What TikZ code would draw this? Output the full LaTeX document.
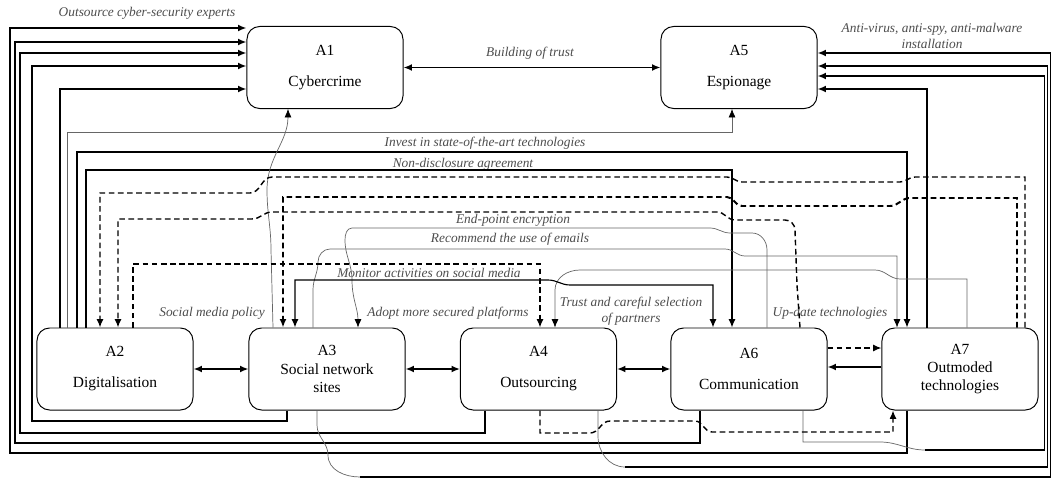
\documentclass[tikz,border=0pt]{standalone}
\usepackage{fontspec}
\setmainfont{Liberation Serif}
\usetikzlibrary{arrows.meta}

\begin{document}
\begin{tikzpicture}[x=0.025cm,y=-0.025cm,>={Latex[length=6pt,width=5pt,color=black]},
  box/.style={draw,rounded corners=9pt,minimum width=3.9cm,minimum height=2.05cm,align=center,line width=0.7pt,font=\fontsize{11}{13}\selectfont},
  thk/.style={line width=1.3pt},
  med/.style={line width=0.8pt},
  thn/.style={line width=0.5pt,black!60},
  dsh/.style={line width=1pt,dash pattern=on 4pt off 2.5pt},
  lbl/.style={font=\itshape\fontsize{9.5}{11}\selectfont,text=black!70,align=center}]
\useasboundingbox (0,0) rectangle (1052,479);

\node[box] (A1) at (325,67.5) {A1\\[9pt]Cybercrime};
\node[box] (A5) at (739,67.5) {A5\\[9pt]Espionage};
\node[box] (A2) at (115,369) {A2\\[9pt]Digitalisation};
\node[box] (A3) at (327,369) {A3\\Social network\\sites};
\node[box] (A4) at (538.5,369) {A4\\[9pt]Outsourcing};
\node[box] (A6) at (749,369) {A6\\[9pt]Communication};
\node[box] (A7) at (960,369) {A7\\Outmoded\\technologies};

\node[lbl] (l1) at (147,13) {Outsource cyber-security experts};
\node[lbl] (l2) at (530,53) {Building of trust};
\node[lbl] (l3) at (932,36) {Anti-virus, anti-spy, anti-malware\\installation};
\node[lbl] (l4) at (485,143) {Invest in state-of-the-art technologies};
\node[lbl] (l5) at (463,164) {Non-disclosure agreement};
\node[lbl] (l6) at (513,220) {End-point encryption};
\node[lbl] (l7) at (510,239) {Recommend the use of emails};
\node[lbl] (l8) at (429,273) {Monitor activities on social media};
\node[lbl] (l9) at (448,313) {Adopt more secured platforms};
\node[lbl] (l10) at (631,311) {Trust and careful selection\\of partners};
\node[lbl] (l11) at (212,313) {Social media policy};
\node[lbl] (l12) at (830,313) {Up-date technologies};

\draw[thk,<->] (A1) -- (A5);
\draw[thk,<->] (A2) -- (A3);
\draw[thk,<->] (A3) -- (A4);
\draw[thk,<->] (A4) -- (A6);
\draw[thk,->] (A7.west |- 0,367) -- (A6.east |- 0,367);
\draw[dsh,->] (A6.east |- 0,348) -- (A7.west |- 0,348);

\draw[thk,->] (60,0 |- A2.north) |- (A1.west |- 0,89);
\draw[thk,->] (287,0 |- A3.south) |- (32,421) |- (A1.west |- 0,66);
\draw[thk,->] (485,0 |- A4.south) |- (20,433) |- (A1.west |- 0,53);
\draw[thk,->] (700,0 |- A6.south) |- (15,443) |- (A1.west |- 0,42);
\draw[thk,->] (907,0 |- A7.south) |- (10,453) |- (A1.west |- 0,28);

\coordinate (j6) at (925,450);
\coordinate (j4) at (625,467);
\coordinate (j3) at (360,477);
\draw[thk,->] (927,0 |- A7.north) |- (A5.east |- 0,89);
\draw[thn] (803,0 |- A6.south) |- (880,442) to[out=0,in=180] (j6);
\draw[thk,->] (j6) -| (1044.5,76) -- (A5.east |- 0,76);
\draw[thn] (598,0 |- A4.south) -- (598,436) to[out=-90,in=180] (j4);
\draw[thk,->] (j4) -| (1047.5,66) -- (A5.east |- 0,66);
\draw[thn] (317,0 |- A3.south) -- (317,425) to[out=-90,in=90] (328,455) to[out=-90,in=180] (j3);
\draw[thk,->] (j3) -| (1050.5,53) -- (A5.east |- 0,53);

\draw[thn,->] (67,0 |- A2.north) |- (732,132) -- (732,0 |- A5.south);
\draw[med,->] (77,0 |- A2.north) |- (907,152) -- (907,0 |- A7.north);
\draw[med,->] (86,0 |- A2.north) |- (732,170) -- (732,0 |- A6.north);
\draw[thn,->] (273,0 |- A3.north) -- (271,250) to[out=90,in=-90] (267,190) to[out=90,in=-90] (288,0 |- A1.south);

\draw[thn,->] (767,0 |- A6.north) -- (767,250) to[out=90,in=0] (752,233) -- (730,233) to[out=180,in=0] (710,228) -- (352,228) to[out=180,in=90] (345,240) to[out=-90,in=90] (352,280) to[out=-90,in=90] (358,0 |- A3.north);
\draw[thn,->] (313,0 |- A3.north) -- (313,290) to[out=90,in=-90] (318,262) to[out=90,in=180] (330,249) -- (725,249) to[out=0,in=180] (745,256) -| (897,0 |- A7.north);
\draw[thn,->] (967,0 |- A7.north) |- (900,279) to[out=180,in=0] (875,270) -- (580,270) to[out=180,in=90] (555,290) -- (555,0 |- A4.north);
\draw[med,<->] (295,0 |- A3.north) |- (548,280) to[out=0,in=180] (570,285) -| (713,0 |- A6.north);

\draw[dsh,->] (1025,0 |- A7.north) |- (915,177) to[out=180,in=0] (900,182) -- (742,182) to[out=180,in=0] (727,177) -- (272,177) to[out=180,in=0] (250,193) -| (100,0 |- A2.north);
\draw[dsh,line width=1.4pt,->] (1017,0 |- A7.north) |- (910,198) to[out=180,in=0] (890,206) -- (742,206) to[out=180,in=0] (727,197) -| (283,0 |- A3.north);
\draw[dsh,->] (800,0 |- A6.north) -- (797,285) -- (795,230) to[out=90,in=0] (785,220) -- (735,220) to[out=180,in=0] (717,212) -- (272,212) to[out=180,in=0] (252,219) -| (118,0 |- A2.north);
\draw[dsh,->] (133,0 |- A2.north) |- (540,264) -- (540,0 |- A4.north);
\draw[dsh,->] (540,0 |- A4.south) |- (590,433) to[out=0,in=180] (610,421) -- (695,421) to[out=0,in=180] (712,432) -| (893,0 |- A7.south);
\end{tikzpicture}
\end{document}
